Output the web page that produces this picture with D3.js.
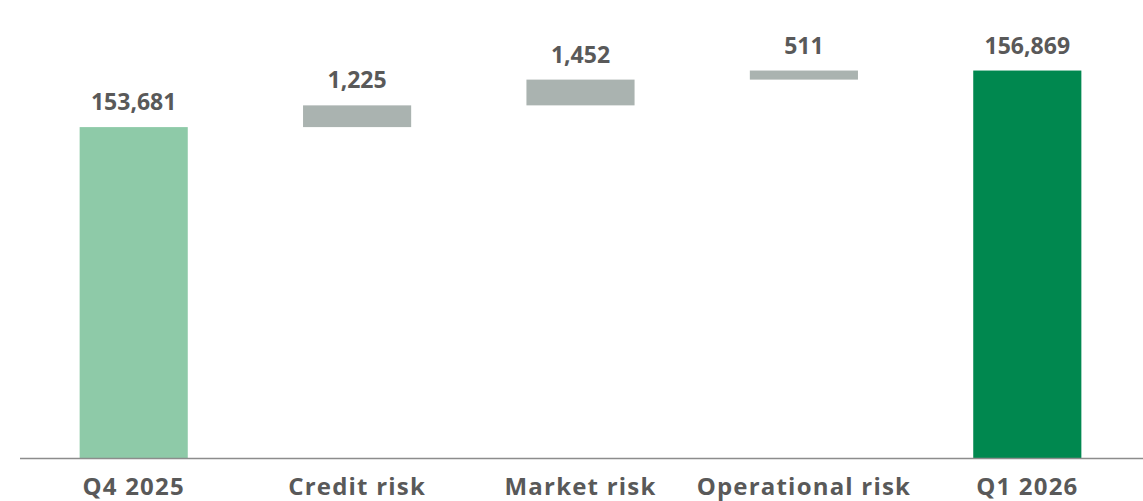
<!DOCTYPE html>
<html>
<head>
<meta charset="utf-8">
<script src="https://cdn.jsdelivr.net/npm/d3@7"></script>
<style>
html,body{margin:0;padding:0;background:#fff;}
svg{display:block;}
text{font-family:"Open Sans",Lato,sans-serif;font-weight:700;fill:#595959;}
</style>
</head>
<body>
<svg id="chart" width="1143" height="501"></svg>
<script>
const categories = ["Q4 2025", "Credit risk", "Market risk", "Operational risk", "Q1 2026"];
const kinds = ["total", "delta", "delta", "delta", "total"];
const values = [153681, 1225, 1452, 511, 156869];
const valueLabels = ["153,681", "1,225", "1,452", "511", "156,869"];
const colors = {start: "#8ecaa8", delta: "#aab3b0", end: "#00884f"};

const svg = d3.select("#chart");
const W = 1143, H = 501;
const x = d3.scaleBand().domain(categories).range([22, 1139]).paddingInner(0.516).paddingOuter(0.258);
const y = d3.scaleLinear().domain([135000, 160000]).range([458.5, 15]);

let running = 0;
const segs = categories.map((c, i) => {
  let lo, hi;
  if (kinds[i] === "total") { lo = y.domain()[0]; hi = values[i]; running = values[i]; }
  else { lo = running; hi = running + values[i]; running = hi; }
  const color = kinds[i] === "total" ? (i === 0 ? colors.start : colors.end) : colors.delta;
  return {c, lo, hi, color, label: valueLabels[i]};
});

svg.selectAll("rect.bar").data(segs).join("rect")
  .attr("class", "bar")
  .attr("x", d => x(d.c))
  .attr("width", x.bandwidth())
  .attr("y", d => y(d.hi))
  .attr("height", d => y(d.lo) - y(d.hi))
  .attr("fill", d => d.color);

svg.selectAll("text.val").data(segs).join("text")
  .attr("class", "val")
  .attr("x", d => x(d.c) + x.bandwidth() / 2)
  .attr("y", d => y(d.hi) - 17)
  .attr("text-anchor", "middle")
  .style("font-size", "23px")
  .text(d => d.label);

const axis = d3.axisBottom(x).tickSize(0).tickPadding(0);
const g = svg.append("g").attr("transform", `translate(0,${y.range()[0]})`).call(axis);
g.select(".domain").remove();
g.selectAll("text").attr("dy", null).attr("y", 36.5)
  .style("font-size", "24px").style("font-family", "'Open Sans', Lato, sans-serif")
  .style("letter-spacing", "1.2px")
  .style("font-weight", 700).attr("fill", "#595959");
svg.append("line").attr("x1", 20).attr("x2", W).attr("y1", y.range()[0]).attr("y2", y.range()[0])
  .attr("stroke", "#8c8c8c").attr("stroke-width", 1.6);
</script>
</body>
</html>
